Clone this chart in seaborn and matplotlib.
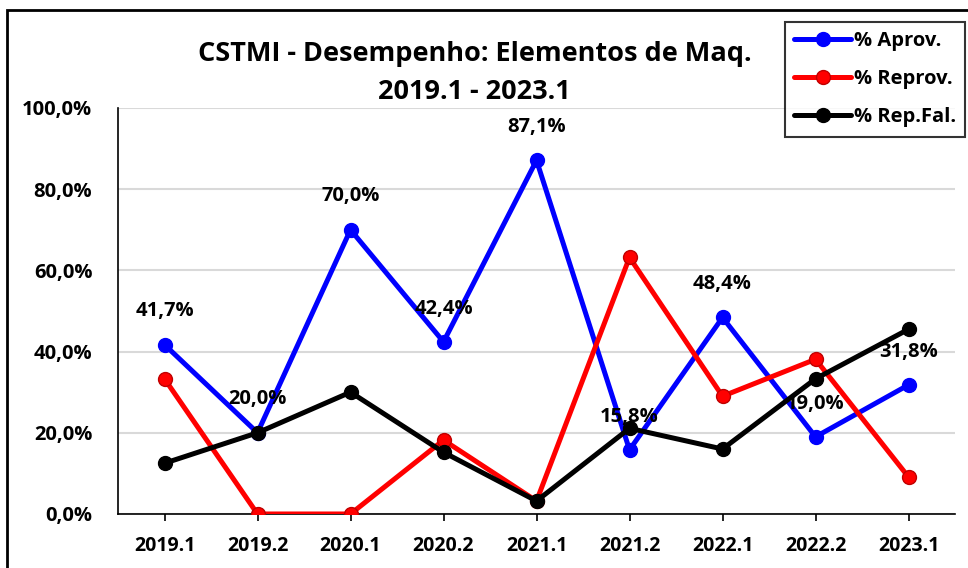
import pandas as pd
import matplotlib.pyplot as plt
import matplotlib.ticker as mticker
from matplotlib.patches import Rectangle
import seaborn as sns

periodos = ['2019.1', '2019.2', '2020.1', '2020.2', '2021.1',
            '2021.2', '2022.1', '2022.2', '2023.1']
aprov = [41.7, 20.0, 70.0, 42.4, 87.1, 15.8, 48.4, 19.0, 31.8]
reprov = [33.3, 0.0, 0.0, 18.2, 3.2, 63.2, 29.0, 38.1, 9.1]
rep_fal = [12.5, 20.0, 30.0, 15.2, 3.2, 21.1, 16.0, 33.3, 45.5]

series = ['% Aprov.', '% Reprov.', '% Rep.Fal.']
cores = ['#0000ff', '#ff0000', '#000000']
bordas = ['#0000ff', '#c00000', '#000000']

df = pd.DataFrame({'Periodo': periodos * 3,
                   'Valor': aprov + reprov + rep_fal,
                   'Serie': [s for s in series for _ in periodos]})

sns.set_style('white')
plt.rcParams['font.family'] = ['Open Sans', 'DejaVu Sans']
plt.rcParams['font.weight'] = 'bold'
plt.rcParams['text.color'] = 'black'
plt.rcParams['xtick.color'] = 'black'
plt.rcParams['ytick.color'] = 'black'

fig = plt.figure(figsize=(9.68, 5.68), dpi=100)
ax = fig.add_axes([0.1219, 0.0951, 0.8647, 0.7148])

for serie, cor, borda in zip(series, cores, bordas):
    sns.lineplot(data=df[df['Serie'] == serie], x='Periodo', y='Valor',
                 color=cor, marker='o', markersize=10, linewidth=3.6,
                 markeredgecolor=borda, markeredgewidth=1, label=serie,
                 ax=ax, zorder=3)

# rótulos da série aprovados
for i, v in enumerate(aprov):
    ax.annotate(f'{v:.1f}%'.replace('.', ','), (i, v), xytext=(0, 24),
                textcoords='offset points', ha='center', va='center',
                fontsize=14.5, fontweight='bold', color='black', zorder=5)

ax.set_xlim(-0.5, 8.5)
ax.set_ylim(0, 100)
ax.set_yticks([0, 20, 40, 60, 80, 100])
ax.yaxis.set_major_formatter(mticker.FuncFormatter(
    lambda v, p: f'{v:.1f}%'.replace('.', ',')))
ax.grid(axis='y', color='#d9d9d9', linewidth=1.5)
ax.set_axisbelow(True)
ax.set_xlabel('')
ax.set_ylabel('')
for s in ['top', 'right']:
    ax.spines[s].set_visible(False)
for s in ['left', 'bottom']:
    ax.spines[s].set_color('black')
    ax.spines[s].set_linewidth(1.2)
ax.tick_params(axis='x', bottom=True, length=5, width=1.2, direction='out',
               labelsize=14, pad=11)
ax.tick_params(axis='y', left=False, labelsize=14.5, pad=15)
for lbl in ax.get_xticklabels() + ax.get_yticklabels():
    lbl.set_fontweight('bold')

fig.text(0.49, 0.872, 'CSTMI - Desempenho: Elementos de Maq.\n2019.1 - 2023.1',
         ha='center', va='center', fontsize=19.5, fontweight='bold',
         linespacing=1.6)

leg = ax.legend(loc='upper right', bbox_to_anchor=(0.997, 0.961),
                bbox_transform=fig.transFigure, borderaxespad=0,
                frameon=True, fancybox=False,
                fontsize=14.5, handlelength=2.8, handletextpad=0.15,
                labelspacing=0.9, borderpad=0.45)
leg.get_frame().set_edgecolor('black')
leg.get_frame().set_linewidth(1.5)
for t in leg.get_texts():
    t.set_fontweight('bold')

fig.patches.append(Rectangle((7 / 968, -0.05), 1.2, 1.05 - 10 / 568,
                             transform=fig.transFigure, fill=False,
                             edgecolor='black', linewidth=2, zorder=0))

fig.savefig('out.png', dpi=100)
